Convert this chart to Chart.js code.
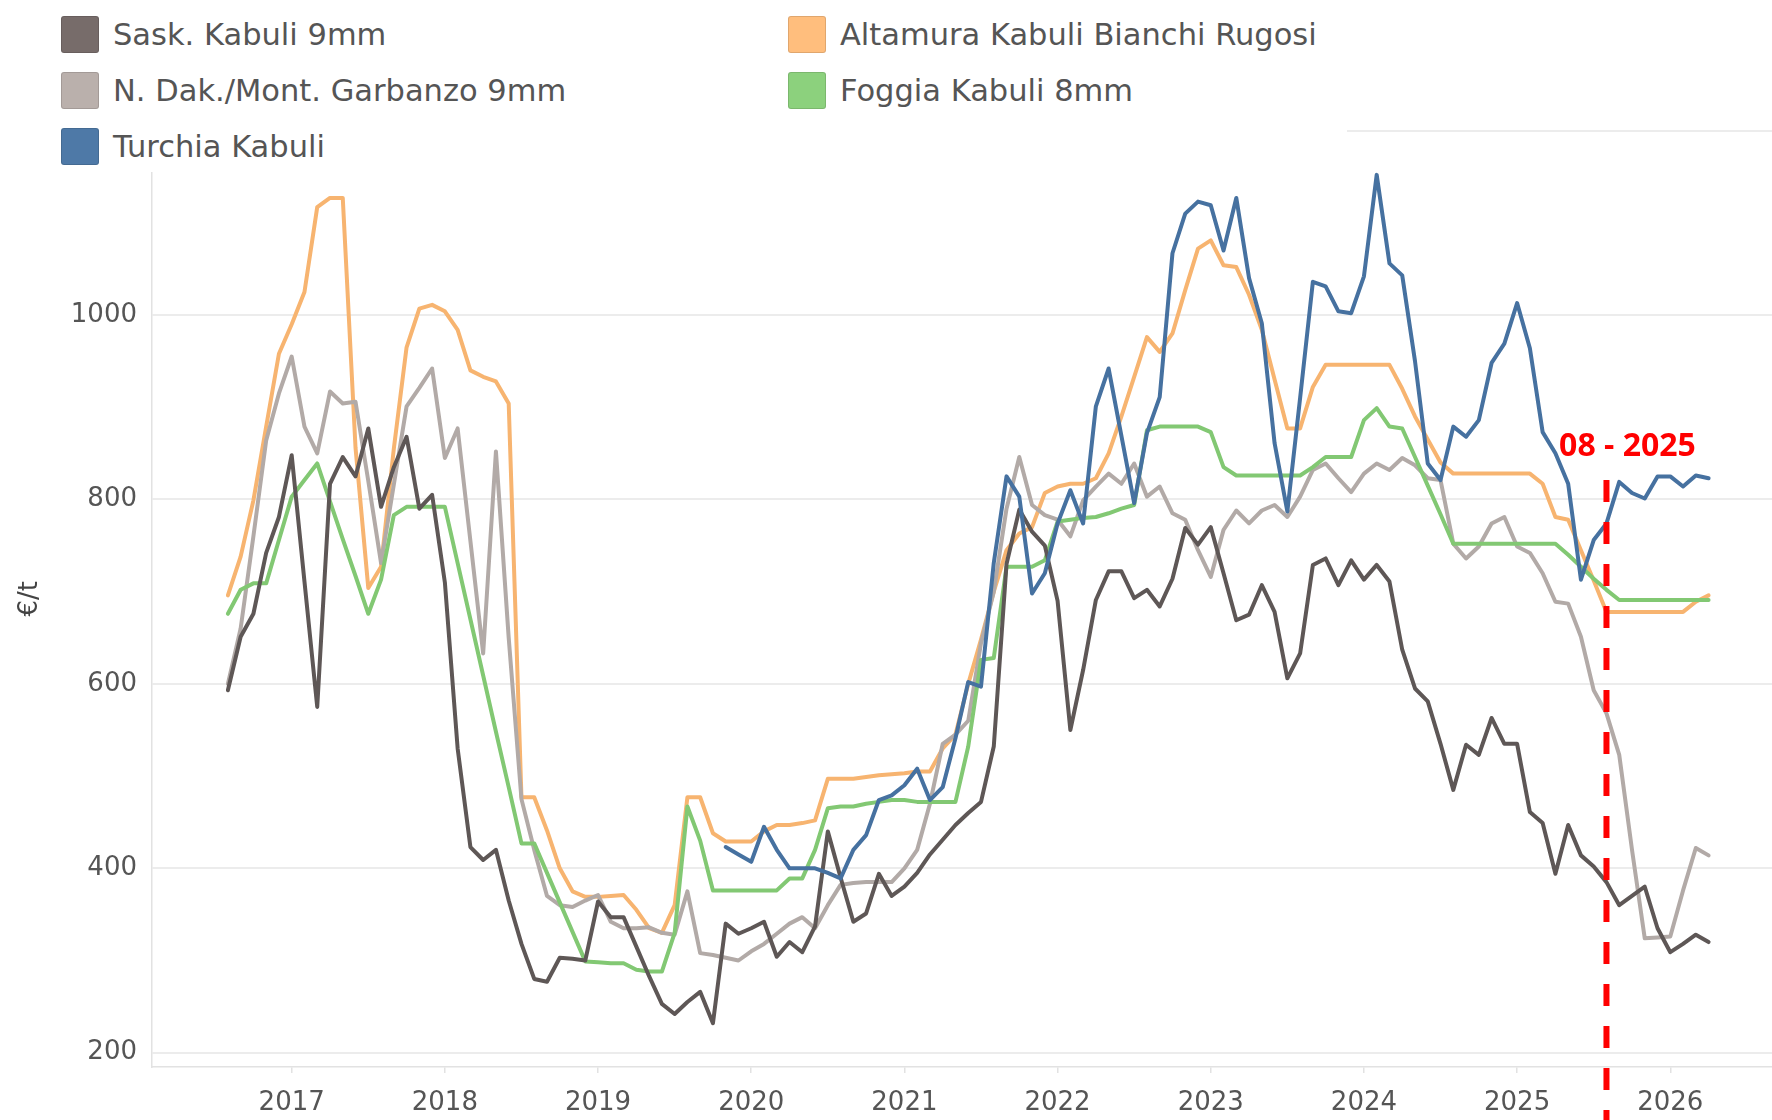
<!DOCTYPE html>
<html lang="it">
<head>
<meta charset="utf-8">
<title>Ceci Kabuli - prezzi €/t</title>
<script src="https://cdn.jsdelivr.net/npm/chart.js@4.4.1/dist/chart.umd.min.js"></script>
<style>
  html, body { margin: 0; padding: 0; background: #fff; }
  #wrap { position: relative; width: 1772px; height: 1120px; overflow: hidden; }
  #chart { position: absolute; left: 0; top: 0; }
  #legend {
    position: absolute; left: 0; top: 0; width: 1347px; height: 172px;
    box-sizing: border-box; padding: 16px 0 0 61px; background: #fff;
    display: grid; grid-template-columns: 727px auto; row-gap: 19px; align-content: start;
    font-family: "DejaVu Sans", sans-serif; font-size: 30.5px; color: #555;
  }
  .item { display: flex; align-items: center; height: 37px; white-space: nowrap; }
  .swatch { width: 38px; height: 37px; margin-right: 14px; border-radius: 3px; box-sizing: border-box; border: 1px solid rgba(0, 0, 0, 0.12); }
</style>
</head>
<body>
<div id="wrap">
  <canvas id="chart" width="1772" height="1120"></canvas>
  <div id="legend"></div>
</div>
<script>
// Mesi: da agosto 2016 ad aprile 2026
const months = [];
let yy = 2016, mm = 8;
while (yy < 2026 || (yy === 2026 && mm <= 4)) {
  months.push(`${yy}-${String(mm).padStart(2, "0")}`);
  mm++;
  if (mm > 12) { mm = 1; yy++; }
}

// Prezzi €/t, una riga per anno
const sask = [
  593, 651, 676, 742, 781,
  848, 711, 575, 817, 846, 825, 877, 792, 835, 868, 790, 805,
  710, 530, 423, 409, 420, 365, 318, 280, 277, 303, 302, 300,
  364, 347, 347, 315, 283, 253, 242, 255, 266, 232, 340, 329,
  335, 342, 304, 320, 309, 337, 440, 390, 342, 351, 394, 370,
  380, 395, 415, 431, 447, 460, 472, 532, 730, 789, 765, 750,
  690, 550, 615, 691, 722, 722, 693, 702, 684, 714, 769, 751,
  770, 720, 669, 675, 707, 678, 606, 633, 729, 736, 707, 734,
  713, 729, 711, 637, 595, 581, 535, 485, 534, 523, 563, 535,
  535, 461, 449, 394, 447, 414, 402, 385, 360, 370, 380, 335,
  309, 318, 328, 320,
];
const altamura = [
  696, 738, 799, 879, 958,
  990, 1025, 1117, 1127, 1127, 856, 704, 727, 855, 965, 1007, 1011,
  1004, 984, 940, 933, 928, 904, 477, 477, 441, 400, 375, 369,
  369, 370, 371, 355, 335, 330, 360, 477, 477, 438, 429, 429,
  429, 440, 447, 447, 449, 452, 497, 497, 497, 499, 501, 502,
  503, 505, 505, 530, 545, 600, 648, 700, 745, 763, 770, 807,
  814, 817, 817, 823, 850, 890, 933, 976, 960, 980, 1027, 1072,
  1081, 1054, 1052, 1022, 984, 930, 877, 877, 922, 946, 946, 946,
  946, 946, 946, 920, 890, 865, 840, 828, 828, 828, 828, 828,
  828, 828, 817, 781, 778, 745, 712, 678, 678, 678, 678, 678,
  678, 678, 689, 696,
];
const ndak = [
  600, 660, 760, 864, 915,
  955, 879, 850, 917, 904, 906, 820, 731, 816, 901, 921, 942,
  845, 877, 755, 633, 852, 650, 475, 420, 370, 360, 358, 365,
  371, 342, 335, 335, 336, 330, 328, 375, 308, 306, 303, 300,
  310, 318, 329, 340, 347, 335, 360, 382, 384, 385, 385, 385,
  400, 420, 470, 535, 545, 560, 644, 700, 790, 846, 794, 783,
  778, 760, 799, 814, 828, 817, 839, 803, 814, 785, 778, 745,
  716, 767, 788, 774, 788, 794, 781, 803, 832, 839, 823, 808,
  828, 839, 832, 845, 837, 823, 821, 752, 736, 749, 774, 781,
  749, 742, 720, 689, 687, 651, 593, 568, 523, 420, 324, 325,
  326, 376, 422, 414,
];
const foggia = [
  676, 702, 709, 709, 756,
  803, 821, 839, 798, 757, 717, 676, 713, 783, 792, 792, 792,
  792, 731, 670, 609, 548, 488, 427, 427, 395, 363, 331, 299,
  298, 297, 297, 290, 288, 288, 330, 467, 430, 376, 376, 376,
  376, 376, 376, 389, 389, 420, 465, 467, 467, 470, 472, 474,
  474, 472, 472, 472, 472, 532, 626, 628, 727, 727, 727, 734,
  776, 778, 780, 781, 785, 790, 794, 875, 879, 879, 879, 879,
  873, 835, 826, 826, 826, 826, 826, 826, 835, 846, 846, 846,
  886, 899, 879, 877, 846, 815, 784, 752, 752, 752, 752, 752,
  752, 752, 752, 752, 740, 727, 714, 702, 691, 691, 691, 691,
  691, 691, 691, 691,
];
// Turchia: serie disponibile da novembre 2019
const turchiaFrom = "2019-11";
const turchia = [
  423, 415,
  407, 445, 420, 400, 400, 400, 395, 389, 420, 436, 474, 479,
  490, 508, 474, 488, 541, 602, 597, 731, 825, 803, 698, 720,
  774, 810, 774, 901, 942, 869, 796, 872, 911, 1067, 1110, 1123,
  1119, 1070, 1127, 1040, 991, 861, 787, 910, 1036, 1031, 1004, 1002,
  1042, 1152, 1056, 1043, 950, 839, 821, 879, 868, 886, 948, 969,
  1013, 964, 873, 850, 817, 713, 756, 774, 819, 807, 801, 825,
  825, 814, 826, 823,
];

// Etichette degli assi
const yearTicks = [2017, 2018, 2019, 2020, 2021, 2022, 2023, 2024, 2025, 2026];
const priceTicks = [200, 400, 600, 800, 1000, 1200];

// Linea verticale tratteggiata
const markerMonth = "2025-08";
const markerLabel = "08 - 2025";
const markerTop = 821;

const toYear = (s) => {
  const [y, m] = s.split("-").map(Number);
  return y + (m - 1) / 12;
};

const series = [
  { label: "Sask. Kabuli 9mm", values: sask, from: months[0], line: "#5e5756", swatch: "#776c6a", order: 2 },
  { label: "Altamura Kabuli Bianchi Rugosi", values: altamura, from: months[0], line: "#f7b470", swatch: "#ffbe7d", order: 5 },
  { label: "N. Dak./Mont. Garbanzo 9mm", values: ndak, from: months[0], line: "#b2aaa7", swatch: "#bab0ac", order: 4 },
  { label: "Foggia Kabuli 8mm", values: foggia, from: months[0], line: "#82c873", swatch: "#8cd17d", order: 3 },
  { label: "Turchia Kabuli", values: turchia, from: turchiaFrom, line: "#4671a0", swatch: "#4e79a7", order: 1 },
];

function toPoints(s) {
  const start = months.indexOf(s.from);
  return s.values.map((v, k) => ({ x: toYear(months[start + k]), y: v }));
}

// Legenda
const legendEl = document.getElementById("legend");
series.forEach((s) => {
  const item = document.createElement("div");
  item.className = "item";
  const sw = document.createElement("span");
  sw.className = "swatch";
  sw.style.background = s.swatch;
  const tx = document.createElement("span");
  tx.textContent = s.label;
  item.append(sw, tx);
  legendEl.appendChild(item);
});

const markerPlugin = {
  id: "marker",
  afterDatasetsDraw(chart) {
    const { ctx, scales } = chart;
    const x = scales.x.getPixelForValue(toYear(markerMonth));
    const top = scales.y.getPixelForValue(markerTop);
    ctx.save();
    ctx.strokeStyle = "#ff0000";
    ctx.lineWidth = 6;
    ctx.setLineDash([22, 20]);
    ctx.beginPath();
    ctx.moveTo(x, top);
    ctx.lineTo(x, chart.height);
    ctx.stroke();
    ctx.setLineDash([]);
    ctx.fillStyle = "#ff0000";
    ctx.font = 'bold 32px "Open Sans", sans-serif';
    ctx.textAlign = "center";
    ctx.textBaseline = "middle";
    ctx.fillText(markerLabel, x + 21, top - 33);
    ctx.restore();
  },
};

const tickFont = { family: "DejaVu Sans", size: 26 };

new Chart(document.getElementById("chart"), {
  type: "line",
  data: {
    datasets: series.map((s) => ({
      label: s.label,
      data: toPoints(s),
      borderColor: s.line,
      backgroundColor: s.line,
      borderWidth: 4,
      pointRadius: 0,
      tension: 0,
      borderJoinStyle: "round",
      borderCapStyle: "round",
      order: s.order,
    })),
  },
  options: {
    responsive: false,
    devicePixelRatio: 1,
    animation: false,
    layout: { padding: { top: 130.6, left: 0, right: 0, bottom: 0 } },
    plugins: { legend: { display: false }, tooltip: { enabled: false } },
    scales: {
      x: {
        type: "linear",
        min: 2016.088,
        max: 2026.664,
        afterBuildTicks: (s) => { s.ticks = yearTicks.map((v) => ({ value: v })); },
        afterFit: (s) => { s.height = 53; },
        grid: { drawOnChartArea: false, drawTicks: true, tickLength: 6, color: "#e2e2e2", lineWidth: 1.5 },
        border: { display: true, color: "#e2e2e2", width: 1.5 },
        ticks: { padding: 15, color: "#555", font: tickFont, maxRotation: 0, autoSkip: false, callback: (v) => String(v) },
      },
      y: {
        type: "linear",
        min: 184.5,
        max: 1200,
        afterBuildTicks: (s) => { s.ticks = priceTicks.map((v) => ({ value: v })); },
        afterFit: (s) => { s.width = 152; },
        grid: { color: "#ececec", lineWidth: 2, drawTicks: false },
        border: { display: true, color: "#e2e2e2", width: 1.5 },
        ticks: { padding: 15, color: "#555", font: tickFont, callback: (v) => String(v) },
        title: { display: true, text: "€/t", color: "#444", font: tickFont, padding: { top: 15 } },
      },
    },
  },
  plugins: [markerPlugin],
});
</script>
</body>
</html>
